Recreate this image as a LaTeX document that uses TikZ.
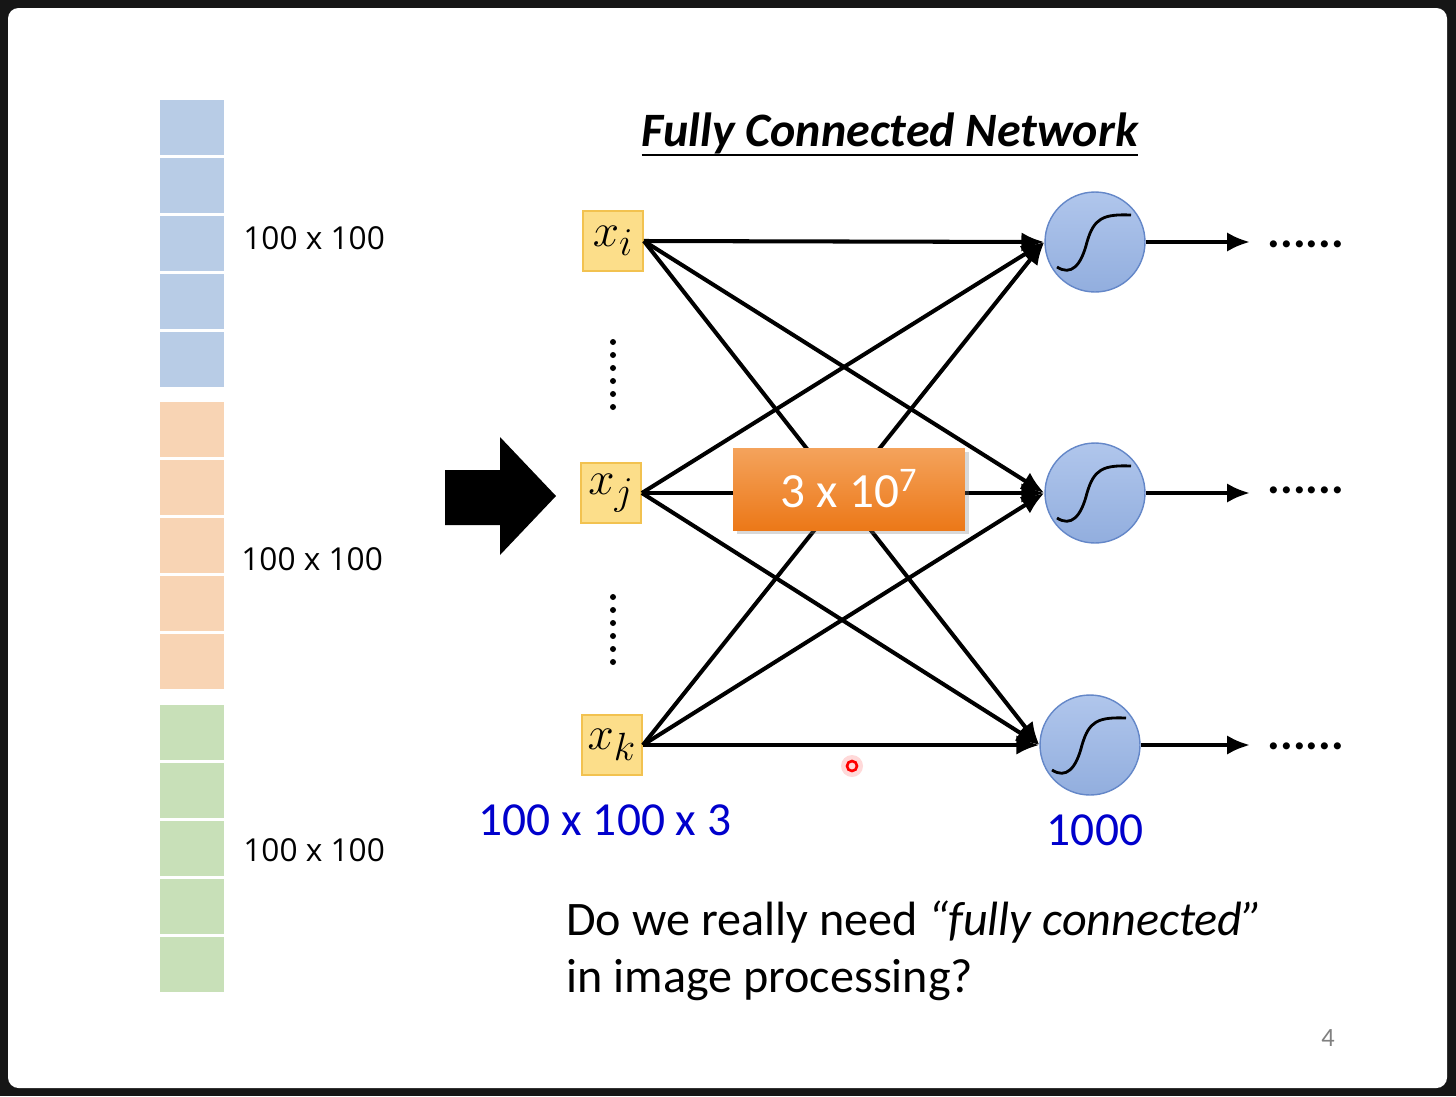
\documentclass[tikz,border=0pt]{standalone}
\usepackage{fontspec}
\setmainfont{Carlito}
\newfontfamily\lblfont{Open Sans}
\usepackage{tikz}
\usetikzlibrary{arrows.meta,shadows}

\definecolor{slidebg}{RGB}{22,22,22}
\definecolor{barblue}{RGB}{184,204,230}
\definecolor{barorange}{RGB}{248,212,180}
\definecolor{bargreen}{RGB}{200,224,184}
\definecolor{boxfill}{RGB}{252,222,138}
\definecolor{boxdraw}{RGB}{242,194,80}
\definecolor{neutop}{RGB}{176,198,236}
\definecolor{neubot}{RGB}{146,174,222}
\definecolor{neudraw}{RGB}{100,135,200}
\definecolor{wtop}{RGB}{244,163,92}
\definecolor{wbot}{RGB}{236,120,24}
\definecolor{lblblue}{RGB}{0,0,204}

\tikzset{
  inbox/.style={draw=boxdraw, fill=boxfill, line width=1pt, minimum size=1.2cm, inner sep=0pt,
    font=\fontsize{29}{30}\selectfont},
  neuron/.style={circle, draw=neudraw, line width=0.8pt, top color=neutop, bottom color=neubot,
    minimum size=2cm, inner sep=0pt},
  conn/.style={line width=2.3pt, -{Latex[length=13pt,width=11pt]}},
  wbox/.style={top color=wtop, bottom color=wbot, minimum width=4.64cm, minimum height=1.64cm,
    text=white, font=\fontsize{28}{30}\selectfont,
    drop shadow={shadow xshift=2pt, shadow yshift=-2pt, opacity=0.3}},
  lbl/.style={anchor=west, inner sep=0pt, font=\lblfont\fontsize{18}{20}\selectfont},
  bluelbl/.style={text=lblblue, font=\fontsize{27}{30}\selectfont},
  dots/.style={anchor=west, inner xsep=10pt, inner ysep=0pt, font=\bfseries\fontsize{27}{30}\selectfont}
}
\newcommand{\invar}[1]{\scalebox{1.08}{$#1$}}

\begin{document}
\begin{tikzpicture}[x=0.02cm,y=-0.02cm]
\fill[slidebg] (0,0) rectangle (1456,1096);
\fill[white,rounded corners=6pt] (8,8) rectangle (1447,1088);

% image column
\foreach \t/\c in {100/barblue,402/barorange,705/bargreen}
\foreach \k in {0,...,4}
\fill[\c] (160,\t+58*\k) rectangle (224,\t+58*\k+55);
\node[lbl] (s1) at (243,238) {100 x 100};
\node[lbl] (s2) at (241,559) {100 x 100};
\node[lbl] (s3) at (243,850) {100 x 100};

\fill (445,470) -- (500,470) -- (500,437) -- (556,496) -- (500,555) -- (500,525) -- (445,525) -- cycle;

\node[inner sep=0pt, font=\bfseries\itshape\fontsize{27.3}{30}\selectfont] (ttl) at (890,133) {Fully Connected Network};
\draw[line width=1.3pt] ([yshift=-5pt]ttl.base west) -- ([yshift=-5pt]ttl.base east);

\node[inbox] (xi) at (613,241) {\invar{x_i}};
\node[inbox] (xj) at (611,493) {\invar{x_j}};
\node[inbox] (xk) at (612,745) {\invar{x_k}};
\foreach \k in {0,...,5}
{\fill (613,342+13*\k) circle (3);
\fill (613,597+13*\k) circle (3);}

\node[neuron] (h1) at (1095,242) {};
\node[neuron] (h2) at (1095,493) {};
\node[neuron] (h3) at (1090,745) {};
\foreach \h in {h1,h2,h3}
\draw[line width=1.6pt,shift={(\h.center)}] (-38,25) .. controls (-24,34) and (-14,24) .. (-8,0) .. controls (-1,-24) and (8,-28) .. (36,-27);

\foreach \s in {xi,xj,xk}
\foreach \h in {h1,h2,h3}
\draw[conn] (\s.east) -- (\h.west);

\node[wbox] (w) at (849,489) {3 x 10\textsuperscript{7}};

\node[dots] (d1) at (1250,244) {......};
\node[dots] (d2) at (1250,490) {......};
\node[dots] (d3) at (1250,746) {......};
\draw[conn] (h1.east) -- (h1.east -| d1.west);
\draw[conn] (h2.east) -- (h2.east -| d2.west);
\draw[conn] (h3.east) -- (h3.east -| d3.west);

\node[bluelbl] (nin) at (605,820) {100 x 100 x 3};
\node[bluelbl] (nout) at (1095,830) {1000};

\node[anchor=north west, align=left, inner sep=0pt, font=\fontsize{27.4}{32.5}\selectfont] (q) at (566,900)
{Do we really need \textit{“fully connected”}\\in image processing?};
\node[text=gray, font=\fontsize{15}{16}\selectfont] (pg) at (1328,1038) {4};

\fill[red,opacity=0.15] (852,766) circle (11);
\draw[red,line width=1.5pt] (852,766) circle (5);
\end{tikzpicture}
\end{document}
